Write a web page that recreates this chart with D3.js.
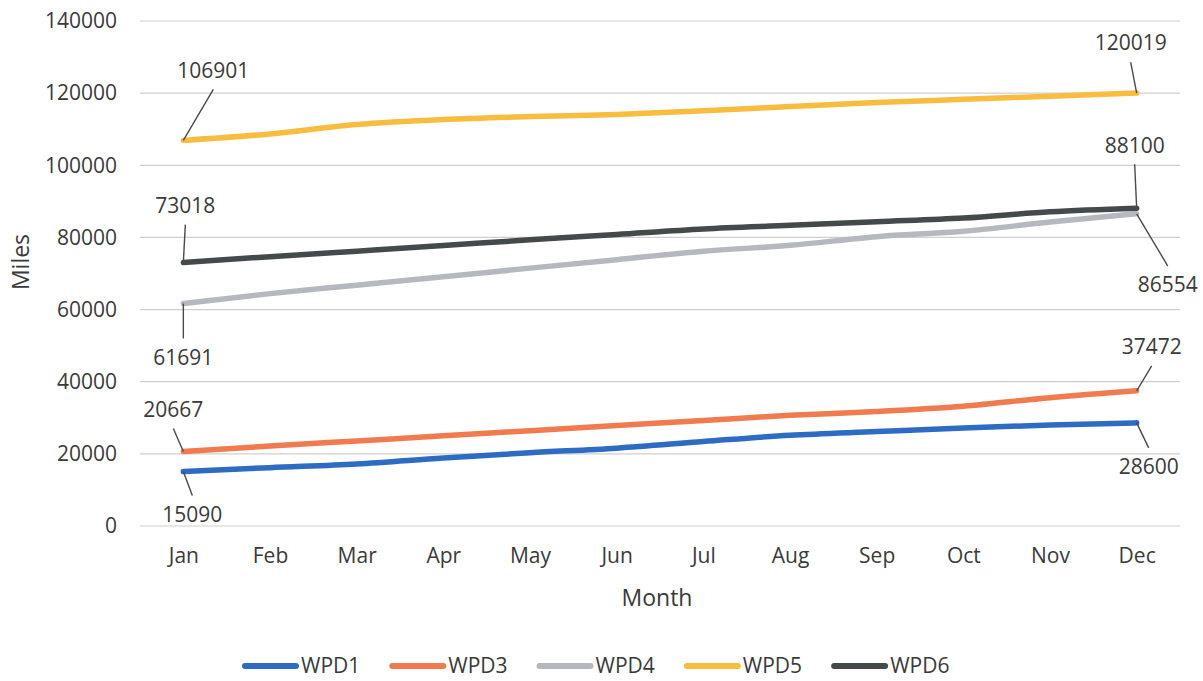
<!DOCTYPE html>
<html>
<head>
<meta charset="utf-8">
<script src="https://cdn.jsdelivr.net/npm/d3@7"></script>
<style>
  html, body { margin: 0; padding: 0; background: #ffffff; }
  svg { display: block; font-family: "Open Sans", "Liberation Sans", sans-serif; }
</style>
</head>
<body>
<svg id="chart" width="1203" height="681"></svg>
<script>
// ---------- data ----------
const months = ["Jan","Feb","Mar","Apr","May","Jun","Jul","Aug","Sep","Oct","Nov","Dec"];
const seriesNames = ["WPD1","WPD3","WPD4","WPD5","WPD6"];
const wpd1 = [15090,16180,17180,18840,20310,21580,23410,25160,26180,27180,28010,28600];
const wpd3 = [20667,22170,23580,24990,26430,27850,29230,30700,31730,33190,35580,37472];
const wpd4 = [61691,64420,66750,69100,71490,73840,76170,77800,80220,81690,84260,86554];
const wpd5 = [106901,108700,111300,112700,113500,114100,115100,116300,117400,118300,119150,120019];
const wpd6 = [73018,74670,76200,77750,79330,80830,82350,83350,84370,85370,87110,88100];
const yTicks = [0,20000,40000,60000,80000,100000,120000,140000];
const xTitle = "Month";
const yTitle = "Miles";

// ---------- styles / layout ----------
const colors = {WPD1:"#2d6cc2", WPD3:"#ef7b4f", WPD4:"#b5b9bf", WPD5:"#f8bd3f", WPD6:"#444a4b"};
const seriesData = {WPD1:wpd1, WPD3:wpd3, WPD4:wpd4, WPD5:wpd5, WPD6:wpd6};
// label offsets from the data point (label centre), for first (Jan) and last (Dec) points
const labelOffsets = {
  WPD1: [[9, 43], [12, 44]],
  WPD3: [[-10, -42], [15, -44]],
  WPD4: [[0, 54], [31, 71]],
  WPD5: [[30, -70], [-6, -50]],
  WPD6: [[2, -57], [-2, -63]]
};
const FS = 21;

const svg = d3.select("#chart");
const W = 1203, H = 681;
svg.append("rect").attr("width", W).attr("height", H).attr("fill", "#ffffff");

const plotLeft = 140, plotRight = 1180;
const x = d3.scalePoint().domain(months).range([plotLeft, plotRight]).padding(0.5);
const y = d3.scaleLinear().domain([0, 140000]).range([526, 21]);

const textColor = "#3a3a3a";

// gridlines
svg.append("g").selectAll("line").data(yTicks).join("line")
  .attr("x1", plotLeft).attr("x2", plotRight)
  .attr("y1", d => y(d)).attr("y2", d => y(d))
  .attr("stroke", "#cfcfcf").attr("stroke-width", 1.2);

// y axis labels
const yAxis = d3.axisLeft(y).tickValues(yTicks).tickSize(0).tickPadding(0).tickFormat(d3.format("d"));
const gy = svg.append("g").attr("transform", `translate(117,0)`).call(yAxis);
gy.select(".domain").remove();
gy.selectAll("text").attr("font-size", FS).attr("fill", textColor)
  .attr("font-family", "'Open Sans', sans-serif");

// x axis labels
const xAxis = d3.axisBottom(x).tickSize(0).tickPadding(0);
const gx = svg.append("g").attr("transform", `translate(0,548)`).call(xAxis);
gx.select(".domain").remove();
gx.selectAll("text").attr("font-size", FS).attr("fill", textColor)
  .attr("font-family", "'Open Sans', sans-serif");

// axis titles
svg.append("text").attr("x", 657).attr("y", 606).attr("text-anchor", "middle")
  .attr("font-size", 23).attr("fill", textColor).text(xTitle);
svg.append("text").attr("transform", "translate(29,262) rotate(-90)").attr("text-anchor", "middle")
  .attr("font-size", 23).attr("fill", textColor).text(yTitle);

// lines
const line = d3.line().x((d, i) => x(months[i])).y(d => y(d)).curve(d3.curveMonotoneX);
seriesNames.forEach(name => {
  svg.append("path").datum(seriesData[name])
    .attr("d", line)
    .attr("fill", "none")
    .attr("stroke", colors[name])
    .attr("stroke-width", 5.5)
    .attr("stroke-linecap", "round")
    .attr("stroke-linejoin", "round");
});

// data labels with leader lines
const labelG = svg.append("g");
seriesNames.forEach(name => {
  const vals = seriesData[name];
  [0, vals.length - 1].forEach((idx, k) => {
    const px = x(months[idx]), py = y(vals[idx]);
    const [dx, dy] = labelOffsets[name][k];
    const lx = px + dx, ly = py + dy;
    const ey = ly + (dy < 0 ? 19 : -19);
    labelG.append("line")
      .attr("x1", px).attr("y1", py).attr("x2", lx).attr("y2", ey)
      .attr("stroke", "#4a4a4a").attr("stroke-width", 1.4);
    labelG.append("text")
      .attr("x", lx).attr("y", ly).attr("dy", "0.35em")
      .attr("text-anchor", "middle").attr("font-size", FS).attr("fill", textColor)
      .text(vals[idx]);
  });
});

// legend
const legend = svg.append("g").attr("transform", "translate(0,666)");
let cx = 245;
seriesNames.forEach(name => {
  const g = legend.append("g").attr("transform", `translate(${cx},0)`);
  g.append("line").attr("x1", 0).attr("x2", 51).attr("y1", 0).attr("y2", 0)
    .attr("stroke", colors[name]).attr("stroke-width", 6).attr("stroke-linecap", "round");
  const t = g.append("text").attr("x", 56).attr("y", 0).attr("dy", "0.35em")
    .attr("font-size", FS).attr("fill", textColor).text(name);
  const tw = t.node().getComputedTextLength();
  cx += 56 + tw + 32;
});
</script>
</body>
</html>
